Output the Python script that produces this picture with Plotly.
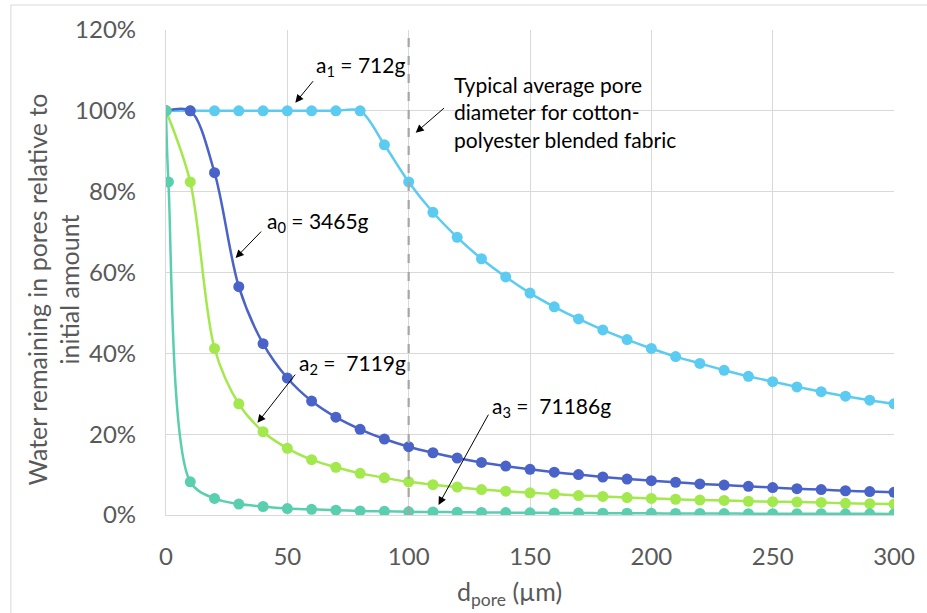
import plotly.graph_objects as go

# ---- data ----
x_std = [0, 10, 20, 30, 40, 50, 60, 70, 80, 90, 100, 110, 120, 130, 140, 150,
         160, 170, 180, 190, 200, 210, 220, 230, 240, 250, 260, 270, 280, 290, 300]
x_a3 = [0, 1, 10, 20, 30, 40, 50, 60, 70, 80, 90, 100, 110, 120, 130, 140, 150,
        160, 170, 180, 190, 200, 210, 220, 230, 240, 250, 260, 270, 280, 290, 300]

a1_712 = [100, 100, 100, 100, 100, 100, 100, 100, 100, 91.6, 82.4, 74.9, 68.7, 63.4,
          58.9, 54.9, 51.5, 48.5, 45.8, 43.4, 41.2, 39.2, 37.5, 35.8, 34.3, 33.0,
          31.7, 30.5, 29.4, 28.4, 27.5]
a0_3465 = [100, 100, 84.7, 56.5, 42.4, 33.9, 28.2, 24.2, 21.2, 18.8, 16.9, 15.4,
           14.1, 13.0, 12.1, 11.3, 10.6, 10.0, 9.4, 8.9, 8.5, 8.1, 7.7, 7.4, 7.1,
           6.8, 6.5, 6.3, 6.0, 5.8, 5.6]
a2_7119 = [100, 82.4, 41.2, 27.5, 20.6, 16.5, 13.7, 11.8, 10.3, 9.2, 8.2, 7.5, 6.9,
           6.3, 5.9, 5.5, 5.2, 4.8, 4.6, 4.3, 4.1, 3.9, 3.7, 3.6, 3.4, 3.3, 3.2,
           3.1, 2.9, 2.8, 2.7]
a3_71186 = [100, 82.4, 8.2, 4.1, 2.7, 2.1, 1.6, 1.4, 1.2, 1.0, 0.9, 0.8, 0.75, 0.7,
            0.63, 0.59, 0.55, 0.52, 0.48, 0.46, 0.43, 0.41, 0.39, 0.37, 0.36, 0.34,
            0.33, 0.32, 0.31, 0.29, 0.28, 0.27]

y_ticks = [0, 20, 40, 60, 80, 100, 120]
y_tick_labels = ["0%", "20%", "40%", "60%", "80%", "100%", "120%"]
x_ticks = [0, 50, 100, 150, 200, 250, 300]
typical_pore = 100

FONT = "Lato, 'Open Sans', sans-serif"
GRAY = "#595959"

series = [
    (x_std, a1_712, "#5BCBF2"),
    (x_std, a0_3465, "#4A63C8"),
    (x_std, a2_7119, "#A3E84C"),
    (x_a3, a3_71186, "#5ACFAF"),
]

fig = go.Figure()
for xs, ys, col in series:
    fig.add_trace(go.Scatter(
        x=xs, y=ys, mode="lines+markers",
        line=dict(color=col, width=2.5, shape="spline", smoothing=0.9),
        marker=dict(color=col, size=11),
        showlegend=False,
    ))

# dashed reference line
fig.add_shape(type="line", xref="x", yref="y", x0=typical_pore, x1=typical_pore,
              y0=0, y1=120, line=dict(color="#A6A6A6", width=2.2, dash="dash"))

# outer chart border
fig.add_shape(type="rect", xref="paper", yref="paper", x0=-0.2131, x1=1.3,
              y0=-0.4, y1=1.0515, line=dict(color="#D9D9D9", width=1), layer="above")


def arrow(tx, ty, ax, ay):
    fig.add_annotation(x=tx, y=ty, xref="x", yref="y", ax=ax, ay=ay,
                       axref="x", ayref="y", text="", showarrow=True,
                       arrowhead=2, arrowsize=1.6, arrowwidth=1, arrowcolor="black")


def label(text, x, y):
    fig.add_annotation(x=x, y=y, xref="x", yref="y", text=text, showarrow=False,
                       xanchor="left", yanchor="middle", align="left",
                       font=dict(family=FONT, size=21, color="black"))


arrow(53.3, 102.0, 61.1, 107.7)
label("a<sub>1</sub> = 712g", 61.0, 111.2)

arrow(28.7, 63.6, 39.8, 70.5)
label("a<sub>0</sub> = 3465g", 41.0, 72.5)

arrow(37.7, 22.8, 53.7, 35.1)
label("a<sub>2</sub> =  7119g", 53.8, 37.3)

arrow(112.3, 2.5, 133.2, 25.2)
label("a<sub>3</sub> =  71186g", 133.7, 26.8)

arrow(102.9, 94.6, 115.2, 101.0)
label("Typical average pore<br>diameter for cotton-<br>polyester blended fabric", 118.0, 99.8)

# axis titles as free annotations (placed like the reference)
fig.add_annotation(x=-0.1544, y=0.464, xref="paper", yref="paper", showarrow=False,
                   text="Water remaining in pores relative to<br>initial amount",
                   textangle=-90, xanchor="center", yanchor="middle",
                   font=dict(family=FONT, size=25, color=GRAY))
fig.add_annotation(x=0.472, y=-0.161, xref="paper", yref="paper", showarrow=False,
                   text="d<sub>pore</sub> (µm)", xanchor="center", yanchor="middle",
                   font=dict(family=FONT, size=25, color=GRAY))

fig.update_xaxes(range=[0, 300], tickvals=x_ticks, showgrid=True, gridcolor="#D9D9D9",
                 gridwidth=1.3, zeroline=False, showline=True, linecolor="#D9D9D9",
                 linewidth=1.3, ticks="outside", ticklen=20, tickcolor="rgba(0,0,0,0)",
                 tickfont=dict(family=FONT, size=24, color=GRAY))
fig.update_yaxes(range=[0, 120], tickvals=y_ticks, ticktext=y_tick_labels, showgrid=True,
                 gridcolor="#D9D9D9", gridwidth=1.3, zeroline=False, showline=True,
                 linecolor="#D9D9D9", linewidth=1.3, ticks="outside", ticklen=24,
                 tickcolor="rgba(0,0,0,0)",
                 tickfont=dict(family=FONT, size=24, color=GRAY))

fig.update_layout(width=927, height=613, margin=dict(l=166, r=29, t=30, b=98),
                  plot_bgcolor="white", paper_bgcolor="white",
                  font=dict(family=FONT))

fig.write_html("out.html", config={"displayModeBar": False},
               post_script="document.body.style.margin='0px';")
